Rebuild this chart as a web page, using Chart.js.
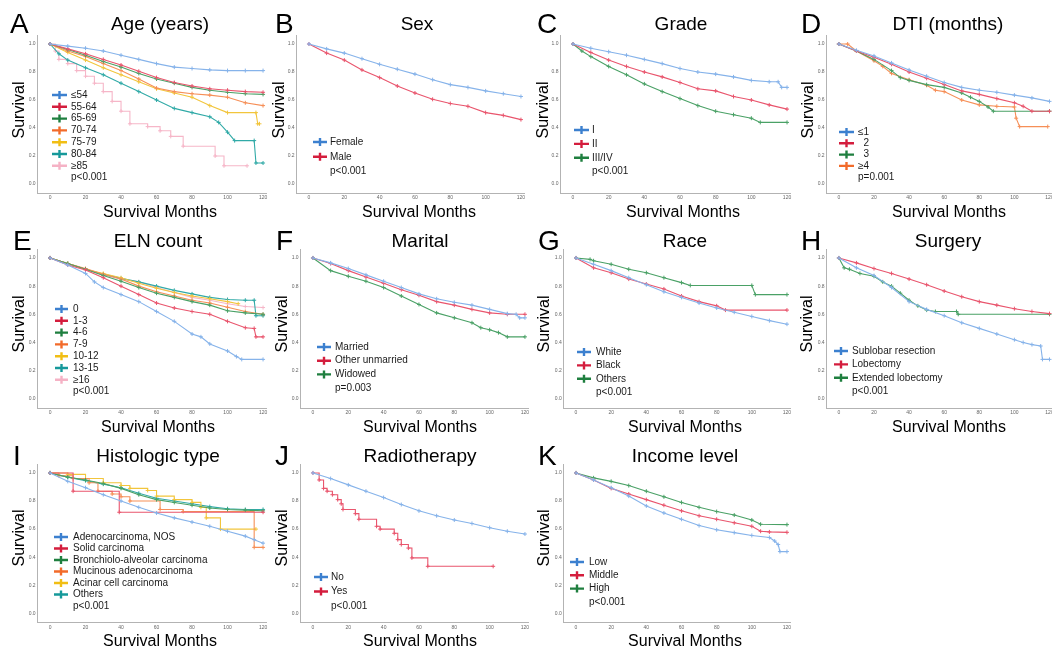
<!DOCTYPE html>
<html>
<head>
<meta charset="utf-8">
<title>Kaplan-Meier survival by subgroup</title>
<script src="https://cdn.jsdelivr.net/npm/chart.js@4.4.1/dist/chart.umd.min.js"></script>
<style>
    html, body { margin: 0; padding: 0; background: #fff; overflow: hidden; }
    body { position: relative; width: 1052px; height: 651px; }
    canvas { position: absolute; }
</style>
</head>
<body>
<script>
'use strict';

// Survival curves as [month, survival] pairs:

// A - Age (years)
var ageLabels = ['≤54', '55-64', '65-69', '70-74', '75-79', '80-84', '≥85'];
var age54 = [[0, 1], [10, 0.985], [20, 0.97], [30, 0.95], [40, 0.92], [50, 0.89], [60, 0.86], [70, 0.835], [80, 0.825], [90, 0.815], [100, 0.81], [110, 0.81], [120, 0.81]];
var age5564 = [[0, 1], [10, 0.965], [20, 0.93], [30, 0.89], [40, 0.85], [50, 0.805], [60, 0.76], [70, 0.725], [80, 0.70], [90, 0.68], [100, 0.67], [110, 0.66], [120, 0.655]];
var age6569 = [[0, 1], [10, 0.96], [20, 0.92], [30, 0.875], [40, 0.835], [50, 0.79], [60, 0.75], [70, 0.72], [80, 0.69], [90, 0.67], [100, 0.655], [110, 0.645], [120, 0.64]];
var age7074 = [[0, 1], [10, 0.95], [20, 0.91], [30, 0.86], [40, 0.81], [50, 0.75], [60, 0.685], [70, 0.66], [80, 0.645], [90, 0.635], [100, 0.62], [110, 0.58], [120, 0.56]];
var age7579 = [[0, 1], [10, 0.94], [20, 0.885], [30, 0.83], [40, 0.78], [50, 0.73], [60, 0.68], [70, 0.65], [80, 0.62], [90, 0.56], [100, 0.51], [116, 0.51], [117, 0.43], [118, 0.43]];
var age8084 = [[0, 1], [5, 0.93], [10, 0.885], [20, 0.83], [30, 0.78], [40, 0.72], [50, 0.66], [60, 0.60], [70, 0.54], [80, 0.51], [90, 0.48], [95, 0.44], [100, 0.37], [104, 0.31], [115, 0.31], [116, 0.15], [120, 0.15]];
var age85 = [[0, 1], [3, 0.95], [5, 0.89], [10, 0.86], [15, 0.81], [20, 0.77], [25, 0.72], [30, 0.66], [35, 0.59], [40, 0.52], [45, 0.43], [55, 0.41], [62, 0.38], [68, 0.34], [75, 0.27], [93, 0.20], [98, 0.13], [111, 0.13]];

// B - Sex
var sexLabels = ['Female', 'Male'];
var sexFemale = [[0, 1], [10, 0.965], [20, 0.935], [30, 0.895], [40, 0.855], [50, 0.82], [60, 0.785], [70, 0.745], [80, 0.71], [90, 0.69], [100, 0.665], [110, 0.645], [120, 0.625]];
var sexMale = [[0, 1], [10, 0.935], [20, 0.885], [30, 0.815], [40, 0.76], [50, 0.70], [60, 0.65], [70, 0.605], [80, 0.575], [90, 0.555], [100, 0.51], [110, 0.49], [120, 0.46]];

// C - Grade
var gradeLabels = ['I', 'II', 'III/IV'];
var gradeI = [[0, 1], [10, 0.97], [20, 0.945], [30, 0.92], [40, 0.89], [50, 0.86], [60, 0.825], [70, 0.80], [80, 0.785], [90, 0.765], [100, 0.74], [110, 0.73], [115, 0.73], [117, 0.69], [120, 0.69]];
var gradeII = [[0, 1], [10, 0.94], [20, 0.885], [30, 0.84], [40, 0.80], [50, 0.765], [60, 0.725], [70, 0.68], [80, 0.665], [90, 0.625], [100, 0.60], [110, 0.565], [120, 0.535]];
var gradeIII = [[0, 1], [5, 0.95], [10, 0.91], [20, 0.84], [30, 0.78], [40, 0.715], [50, 0.66], [60, 0.61], [70, 0.56], [80, 0.52], [90, 0.495], [100, 0.47], [105, 0.44], [120, 0.44]];

// D - DTI (months)
var dtiLabels = ['≤1', '  2', '  3', '≥4'];
var dti1 = [[0, 1], [10, 0.955], [20, 0.915], [30, 0.865], [40, 0.815], [50, 0.77], [60, 0.725], [70, 0.69], [80, 0.67], [90, 0.655], [100, 0.635], [110, 0.615], [120, 0.59]];
var dti2 = [[0, 1], [10, 0.95], [20, 0.905], [30, 0.855], [40, 0.80], [50, 0.755], [60, 0.71], [70, 0.665], [80, 0.64], [90, 0.61], [100, 0.58], [105, 0.555], [110, 0.52], [120, 0.52]];
var dti3 = [[0, 1], [10, 0.95], [20, 0.89], [30, 0.81], [35, 0.76], [40, 0.74], [50, 0.71], [60, 0.69], [70, 0.65], [75, 0.62], [80, 0.59], [85, 0.55], [88, 0.52], [120, 0.52]];
var dti4 = [[0, 1], [5, 1], [10, 0.95], [20, 0.88], [25, 0.84], [30, 0.79], [40, 0.745], [50, 0.705], [55, 0.67], [60, 0.66], [70, 0.60], [80, 0.565], [90, 0.555], [100, 0.55], [101, 0.47], [103, 0.41], [119, 0.41]];

// E - ELN count
var elnLabels = ['0', '1-3', '4-6', '7-9', '10-12', '13-15', '≥16'];
var eln0 = [[0, 1], [10, 0.95], [20, 0.89], [25, 0.83], [30, 0.79], [40, 0.74], [50, 0.69], [60, 0.62], [70, 0.55], [80, 0.46], [85, 0.44], [90, 0.39], [100, 0.34], [105, 0.30], [108, 0.28], [120, 0.28]];
var eln13 = [[0, 1], [10, 0.95], [20, 0.915], [30, 0.86], [40, 0.80], [50, 0.74], [60, 0.68], [70, 0.645], [80, 0.62], [90, 0.60], [100, 0.55], [110, 0.505], [115, 0.50], [116, 0.44], [120, 0.44]];
var eln46 = [[0, 1], [10, 0.96], [20, 0.92], [30, 0.875], [40, 0.835], [50, 0.79], [60, 0.75], [70, 0.72], [80, 0.69], [90, 0.665], [100, 0.625], [110, 0.61], [120, 0.60]];
var eln79 = [[0, 1], [10, 0.96], [20, 0.925], [30, 0.885], [40, 0.85], [50, 0.80], [60, 0.76], [70, 0.73], [80, 0.70], [90, 0.68], [100, 0.65], [110, 0.62], [120, 0.60]];
var eln1012 = [[0, 1], [10, 0.96], [20, 0.92], [30, 0.89], [40, 0.86], [50, 0.82], [60, 0.785], [70, 0.755], [80, 0.73], [90, 0.71], [100, 0.69], [106, 0.675]];
var eln1315 = [[0, 1], [10, 0.96], [20, 0.92], [30, 0.885], [40, 0.855], [50, 0.83], [60, 0.80], [70, 0.77], [80, 0.745], [90, 0.72], [100, 0.705], [110, 0.70], [115, 0.70], [116, 0.59], [120, 0.59]];
var eln16 = [[0, 1], [10, 0.96], [20, 0.92], [30, 0.88], [40, 0.85], [50, 0.83], [60, 0.79], [70, 0.755], [80, 0.72], [90, 0.70], [100, 0.675], [110, 0.655], [120, 0.648]];

// F - Marital
var maritalLabels = ['Married', 'Other unmarried', 'Widowed'];
var maritalMarried = [[0, 1], [10, 0.965], [20, 0.925], [30, 0.88], [40, 0.835], [50, 0.79], [60, 0.745], [70, 0.71], [80, 0.685], [90, 0.665], [100, 0.635], [110, 0.605], [115, 0.60], [117, 0.575], [120, 0.575]];
var maritalOther = [[0, 1], [10, 0.96], [20, 0.91], [30, 0.865], [40, 0.82], [50, 0.775], [60, 0.735], [70, 0.69], [80, 0.665], [90, 0.635], [100, 0.61], [110, 0.60], [120, 0.60]];
var maritalWidowed = [[0, 1], [10, 0.91], [20, 0.87], [30, 0.835], [40, 0.79], [50, 0.73], [60, 0.67], [70, 0.61], [80, 0.575], [90, 0.54], [95, 0.505], [100, 0.49], [105, 0.47], [110, 0.44], [120, 0.44]];

// G - Race
var raceLabels = ['White', 'Black', 'Others'];
var raceWhite = [[0, 1], [10, 0.955], [20, 0.91], [30, 0.86], [40, 0.81], [50, 0.76], [60, 0.72], [70, 0.68], [80, 0.645], [90, 0.615], [100, 0.585], [110, 0.555], [120, 0.53]];
var raceBlack = [[0, 1], [10, 0.93], [20, 0.895], [30, 0.85], [40, 0.815], [50, 0.78], [60, 0.73], [70, 0.69], [80, 0.66], [85, 0.63], [120, 0.63]];
var raceOthers = [[0, 1], [8, 0.99], [10, 0.98], [20, 0.955], [30, 0.92], [40, 0.895], [50, 0.86], [60, 0.825], [65, 0.805], [100, 0.805], [102, 0.74], [120, 0.74]];

// H - Surgery
var surgeryLabels = ['Sublobar resection', 'Lobectomy', 'Extended lobectomy'];
var surgSublobar = [[0, 1], [10, 0.93], [20, 0.875], [30, 0.79], [40, 0.69], [50, 0.635], [60, 0.59], [70, 0.54], [80, 0.50], [90, 0.46], [100, 0.42], [105, 0.40], [110, 0.385], [115, 0.375], [116, 0.28], [120, 0.28]];
var surgLobectomy = [[0, 1], [10, 0.965], [20, 0.925], [30, 0.89], [40, 0.85], [50, 0.81], [60, 0.765], [70, 0.725], [80, 0.69], [90, 0.665], [100, 0.64], [110, 0.62], [120, 0.605]];
var surgExtended = [[0, 1], [3, 0.93], [6, 0.92], [12, 0.89], [20, 0.87], [25, 0.83], [30, 0.80], [35, 0.75], [40, 0.70], [45, 0.66], [50, 0.63], [55, 0.62], [67, 0.62], [68, 0.60], [120, 0.60]];

// I - Histologic type
var histLabels = ['Adenocarcinoma, NOS', 'Solid carcinoma', 'Bronchiolo-alveolar carcinoma', 'Mucinous adenocarcinoma', 'Acinar cell carcinoma', 'Others'];
var histAdeno = [[0, 1], [10, 0.94], [20, 0.895], [30, 0.845], [40, 0.80], [50, 0.755], [60, 0.715], [70, 0.68], [80, 0.65], [90, 0.62], [100, 0.585], [110, 0.55], [115, 0.525], [120, 0.50]];
var histSolid = [[0, 1], [13, 0.87], [39, 0.72], [120, 0.72]];
var histBronch = [[0, 1], [10, 0.97], [20, 0.95], [30, 0.925], [40, 0.89], [50, 0.845], [60, 0.81], [70, 0.79], [80, 0.77], [90, 0.75], [100, 0.74], [110, 0.735], [120, 0.73]];
var histMucinous = [[0, 1], [5, 0.98], [13, 0.96], [22, 0.93], [27, 0.87], [35, 0.85], [40, 0.83], [45, 0.80], [62, 0.74], [75, 0.725], [115, 0.47], [120, 0.47]];
var histAcinar = [[0, 1], [10, 0.99], [20, 0.96], [30, 0.93], [40, 0.91], [45, 0.89], [55, 0.875], [60, 0.835], [70, 0.81], [80, 0.79], [85, 0.755], [88, 0.68], [96, 0.60], [116, 0.60]];
var histOthers = [[0, 1], [10, 0.97], [20, 0.945], [30, 0.92], [40, 0.895], [50, 0.855], [60, 0.82], [70, 0.80], [80, 0.78], [90, 0.76], [100, 0.745], [110, 0.74], [120, 0.74]];

// J - Radiotherapy
var radioLabels = ['No', 'Yes'];
var radioNo = [[0, 1], [10, 0.96], [20, 0.915], [30, 0.87], [40, 0.825], [50, 0.775], [60, 0.73], [70, 0.695], [80, 0.665], [90, 0.64], [100, 0.61], [110, 0.585], [120, 0.565]];
var radioYes = [[0, 1], [3.5, 0.95], [6, 0.89], [8, 0.87], [11, 0.845], [14, 0.81], [16, 0.78], [17, 0.74], [24, 0.71], [26, 0.67], [36, 0.62], [38, 0.60], [46, 0.57], [48, 0.525], [50, 0.49], [54, 0.465], [56, 0.395], [65, 0.335], [102, 0.335]];

// K - Income level
var incomeLabels = ['Low', 'Middle', 'High'];
var incomeLow = [[0, 1], [10, 0.95], [20, 0.895], [30, 0.835], [40, 0.765], [50, 0.715], [60, 0.67], [70, 0.625], [80, 0.595], [90, 0.575], [100, 0.555], [110, 0.54], [113, 0.515], [115, 0.49], [116, 0.44], [120, 0.44]];
var incomeMiddle = [[0, 1], [10, 0.95], [20, 0.89], [30, 0.85], [40, 0.81], [50, 0.77], [60, 0.73], [70, 0.695], [80, 0.67], [90, 0.645], [100, 0.62], [105, 0.585], [110, 0.58], [120, 0.577]];
var incomeHigh = [[0, 1], [10, 0.965], [20, 0.94], [30, 0.91], [40, 0.87], [50, 0.83], [60, 0.79], [70, 0.755], [80, 0.725], [90, 0.70], [100, 0.665], [105, 0.635], [120, 0.632]];

var panelTitles = ['Age (years)', 'Sex', 'Grade', 'DTI (months)', 'ELN count', 'Marital', 'Race', 'Surgery', 'Histologic type', 'Radiotherapy', 'Income level'];
var pValues = ['p<0.001', 'p<0.001', 'p<0.001', 'p=0.001', 'p<0.001', 'p=0.003', 'p<0.001', 'p<0.001', 'p<0.001', 'p<0.001', 'p<0.001'];
var xTicks = [0, 20, 40, 60, 80, 100, 120];
var yTicks = [0, 0.2, 0.4, 0.6, 0.8, 1.0];

// Colours by group order (lines are paler than the legend crosses):
var lineColors = ['#86b3ea', '#e9556d', '#4aa166', '#f68f57', '#f2c53c', '#31aaa7', '#f6b6c8'];
var legendColors = ['#3c80cf', '#d41d3d', '#1f7f3f', '#f26b2a', '#f1be14', '#16999a', '#f5b2c5'];
var FONT = '"Liberation Sans", Arial, Helvetica, sans-serif';

// Panel layout. box = chart area [left, top, right, bottom] in page pixels,
// leg = [cross start, cross end, text x, first row y, row step]:
var panels = [
    { letter: 'A', curves: [age54, age5564, age6569, age7074, age7579, age8084, age85], labels: ageLabels, stepped: [6],
      col: 0, row: 0, box: [37.6, 35.6, 266.6, 193.1], letterX: 10, titleX: 160, xLabX: 160, yLabX: 20, leg: [52, 67, 71, 95, 11.8] },
    { letter: 'B', curves: [sexFemale, sexMale], labels: sexLabels, stepped: [],
      col: 1, row: 0, box: [296.6, 35.6, 524.5, 193.1], letterX: 275, titleX: 417, xLabX: 419, yLabX: 280, leg: [313, 327, 330, 142, 14.8] },
    { letter: 'C', curves: [gradeI, gradeII, gradeIII], labels: gradeLabels, stepped: [],
      col: 2, row: 0, box: [560.5, 35.6, 790.6, 193.1], letterX: 537, titleX: 681, xLabX: 683, yLabX: 544, leg: [574, 589, 592, 130, 13.9] },
    { letter: 'D', curves: [dti1, dti2, dti3, dti4], labels: dtiLabels, stepped: [],
      col: 3, row: 0, box: [826.6, 35.6, 1054.5, 193.1], letterX: 801, titleX: 948, xLabX: 949, yLabX: 809, leg: [839, 854, 858, 132, 11.3] },
    { letter: 'E', curves: [eln0, eln13, eln46, eln79, eln1012, eln1315, eln16], labels: elnLabels, stepped: [],
      col: 0, row: 1, box: [37.6, 249.5, 266.6, 408], letterX: 13, titleX: 158, xLabX: 158, yLabX: 20, leg: [55, 68, 73, 309, 11.8] },
    { letter: 'F', curves: [maritalMarried, maritalOther, maritalWidowed], labels: maritalLabels, stepped: [],
      col: 1, row: 1, box: [300.6, 249.5, 528.5, 408], letterX: 276, titleX: 420, xLabX: 420, yLabX: 283, leg: [317, 331, 335, 347, 13.7] },
    { letter: 'G', curves: [raceWhite, raceBlack, raceOthers], labels: raceLabels, stepped: [],
      col: 2, row: 1, box: [563.7, 249.5, 790.5, 408], letterX: 538, titleX: 685, xLabX: 685, yLabX: 545, leg: [577, 591, 596, 352, 13.4] },
    { letter: 'H', curves: [surgSublobar, surgLobectomy, surgExtended], labels: surgeryLabels, stepped: [],
      col: 3, row: 1, box: [826.6, 249.5, 1054.5, 408], letterX: 801, titleX: 948, xLabX: 949, yLabX: 808, leg: [834, 848, 852, 351, 13.4] },
    { letter: 'I', curves: [histAdeno, histSolid, histBronch, histMucinous, histAcinar, histOthers], labels: histLabels, stepped: [1, 3, 4],
      col: 0, row: 2, box: [37.6, 464.5, 266.6, 622.5], letterX: 13, titleX: 158, xLabX: 160, yLabX: 20, leg: [54, 68, 73, 537, 11.5] },
    { letter: 'J', curves: [radioNo, radioYes], labels: radioLabels, stepped: [1],
      col: 1, row: 2, box: [300.6, 464.5, 528.5, 622.5], letterX: 275, titleX: 420, xLabX: 420, yLabX: 283, leg: [314, 328, 331, 577, 14.5] },
    { letter: 'K', curves: [incomeLow, incomeMiddle, incomeHigh], labels: incomeLabels, stepped: [],
      col: 2, row: 2, box: [563.7, 464.5, 790.5, 622.5], letterX: 538, titleX: 685, xLabX: 685, yLabX: 545, leg: [570, 584, 589, 562, 13.3] }
];

var colX = [0, 262, 524, 786];
var rowY = [0, 215, 430];
var titleY = [25, 242, 457];
var xLabY = [213, 428, 642];
var yLabY = [110, 324, 538];
var CANVAS_W = 272;
var CANVAS_H = [230, 230, 221];
var Y_AXIS_W = 14;
var X_AXIS_H = 10;

// Plugin drawing the panel letter, title, axis titles and the cross legend:
var panelDecor = {
    id: 'panelDecor',
    afterDraw: function (chart, args, o) {
        var ctx = chart.ctx;
        var ox = o.ox, oy = o.oy;
        ctx.save();
        ctx.fillStyle = '#000';
        ctx.textBaseline = 'middle';

        ctx.textAlign = 'left';
        ctx.font = '28px ' + FONT;
        ctx.fillText(o.letter, o.letterX - ox, o.titleY - oy);

        ctx.textAlign = 'center';
        ctx.font = '19px ' + FONT;
        ctx.fillText(o.title, o.titleX - ox, o.titleY - oy);

        ctx.font = '16px ' + FONT;
        ctx.fillText('Survival Months', o.xLabX - ox, o.xLabY - oy);
        ctx.save();
        ctx.translate(o.yLabX - ox, o.yLabY - oy);
        ctx.rotate(-Math.PI / 2);
        ctx.fillText('Survival', 0, 0);
        ctx.restore();

        // Legend:
        var leg = o.leg;
        var mid = (leg[0] + leg[1]) / 2 - ox;
        ctx.textAlign = 'left';
        ctx.font = '10px ' + FONT;
        chart.data.datasets.forEach(function (ds, i) {
            var y = leg[3] + i * leg[4] - oy;
            ctx.strokeStyle = legendColors[i];
            ctx.lineWidth = 2.4;
            ctx.beginPath();
            ctx.moveTo(leg[0] - ox, y);
            ctx.lineTo(leg[1] - ox, y);
            ctx.moveTo(mid, y - 4);
            ctx.lineTo(mid, y + 4);
            ctx.stroke();
            ctx.fillStyle = '#1a1a1a';
            ctx.fillText(ds.label, leg[2] - ox, y);
        });
        ctx.fillText(o.pText, leg[2] - ox, leg[3] + chart.data.datasets.length * leg[4] - oy);
        ctx.restore();
    }
};

panels.forEach(function (p, k) {
    var ox = colX[p.col];
    var oy = rowY[p.row];
    var h = CANVAS_H[p.row];

    var canvas = document.createElement('canvas');
    canvas.width = CANVAS_W;
    canvas.height = h;
    canvas.style.left = ox + 'px';
    canvas.style.top = oy + 'px';
    document.body.appendChild(canvas);

    var datasets = p.curves.map(function (curve, i) {
        return {
            label: p.labels[i],
            data: curve.map(function (pt) { return { x: pt[0], y: pt[1] }; }),
            borderColor: lineColors[i],
            backgroundColor: lineColors[i],
            borderWidth: 1.1,
            pointStyle: 'cross',
            pointRadius: 2,
            pointBorderWidth: 1,
            pointBorderColor: lineColors[i],
            stepped: p.stepped.indexOf(i) >= 0,
            tension: 0,
            fill: false
        };
    });

    new Chart(canvas.getContext('2d'), {
        type: 'line',
        data: { datasets: datasets },
        options: {
            responsive: false,
            animation: false,
            devicePixelRatio: 1,
            events: [],
            layout: {
                padding: {
                    left: p.box[0] - ox - Y_AXIS_W,
                    top: p.box[1] - oy,
                    right: CANVAS_W - (p.box[2] - ox),
                    bottom: h - (p.box[3] - oy) - X_AXIS_H
                }
            },
            scales: {
                x: {
                    type: 'linear',
                    min: -7,
                    max: 122,
                    grid: { display: false, drawTicks: false },
                    border: { display: true, color: '#b3b3b3', width: 1 },
                    ticks: {
                        font: { size: 5, family: FONT },
                        color: '#666',
                        padding: 2,
                        maxRotation: 0,
                        autoSkip: false,
                        callback: function (v) { return String(v); }
                    },
                    afterBuildTicks: function (s) {
                        s.ticks = xTicks.map(function (v) { return { value: v }; });
                    },
                    afterFit: function (s) {
                        s.height = X_AXIS_H;
                        s.paddingLeft = 0;
                        s.paddingRight = 0;
                    }
                },
                y: {
                    type: 'linear',
                    min: -0.065,
                    max: 1.06,
                    grid: { display: false, drawTicks: false },
                    border: { display: true, color: '#b3b3b3', width: 1 },
                    ticks: {
                        font: { size: 5, family: FONT },
                        color: '#666',
                        padding: 2,
                        callback: function (v) { return Number(v).toFixed(1); }
                    },
                    afterBuildTicks: function (s) {
                        s.ticks = yTicks.map(function (v) { return { value: v }; });
                    },
                    afterFit: function (s) {
                        s.width = Y_AXIS_W;
                        s.paddingTop = 0;
                        s.paddingBottom = 0;
                    }
                }
            },
            plugins: {
                legend: { display: false },
                title: { display: false },
                tooltip: { enabled: false },
                panelDecor: {
                    ox: ox,
                    oy: oy,
                    letter: p.letter,
                    title: panelTitles[k],
                    pText: pValues[k],
                    letterX: p.letterX,
                    titleX: p.titleX,
                    titleY: titleY[p.row],
                    xLabX: p.xLabX,
                    xLabY: xLabY[p.row],
                    yLabX: p.yLabX,
                    yLabY: yLabY[p.row],
                    leg: p.leg
                }
            }
        },
        plugins: [panelDecor]
    });
});
</script>
</body>
</html>
